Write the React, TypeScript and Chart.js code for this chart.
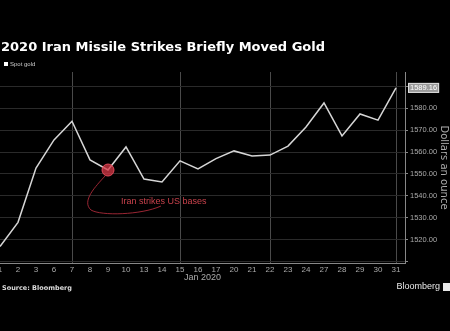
import React, { useEffect, useRef } from 'react';
import { Chart, registerables } from 'chart.js';

Chart.register(...registerables);

// ---- Data ----
const days = ['1', '2', '3', '6', '7', '8', '9', '10', '13', '14', '15', '16', '17', '20', '21', '22', '23', '24', '27', '28', '29', '30', '31'];
const spotGold = [1517, 1528, 1552.7, 1565.5, 1574, 1556.4, 1551.8, 1562.3, 1547.7, 1546.4, 1556, 1552.3, 1557, 1560.5, 1558.2, 1558.6, 1562.7, 1571.4, 1582.3, 1567.3, 1577.3, 1574.5, 1589.16];
const gridDays = ['7', '15', '22', '31'];
const yMin = 1509.5;
const yMax = 1596.4;
const yLabelMin = 1520;
const yLabelMax = 1580;
const yStep = 10;

const titleText = '2020 Iran Missile Strikes Briefly Moved Gold';
const seriesName = 'Spot gold';
const xAxisTitle = 'Jan 2020';
const yAxisTitle = 'Dollars an ounce';
const sourceText = 'Source: Bloomberg';
const brandText = 'Bloomberg';
const eventDay = '9';
const eventText = 'Iran strikes US bases';

const decor = {
  id: 'decor',
  beforeDraw(chart: any) {
    const ctx = chart.ctx;
    ctx.save();
    ctx.fillStyle = '#000';
    ctx.fillRect(0, 0, chart.width, chart.height);
    ctx.restore();
  },
  afterDraw(chart: any) {
    const ctx = chart.ctx;
    const xs = chart.scales.x;
    const ys = chart.scales.y;
    ctx.save();
    // Title
    ctx.textBaseline = 'middle';
    ctx.textAlign = 'left';
    ctx.fillStyle = '#ffffff';
    ctx.font = 'bold 13px "DejaVu Sans"';
    ctx.fillText(titleText, 1, 48);
    // Legend
    ctx.fillStyle = '#ffffff';
    ctx.fillRect(4, 62, 4, 4);
    ctx.fillStyle = '#cccccc';
    ctx.font = '6px "Liberation Sans"';
    ctx.fillText(seriesName, 10, 64.5);
    // Source
    ctx.fillStyle = '#dddddd';
    ctx.font = 'bold 6.5px "DejaVu Sans"';
    ctx.fillText(sourceText, 2, 288);
    // Brand
    ctx.fillStyle = '#e8e8e8';
    ctx.font = '9px "Liberation Sans"';
    ctx.textAlign = 'right';
    ctx.fillText(brandText, 440, 287);
    ctx.fillRect(443, 283, 7, 8);

    // Annotation
    const i = days.indexOf(eventDay);
    const px = xs.getPixelForValue(i);
    const py = ys.getPixelForValue(spotGold[i]);
    ctx.strokeStyle = 'rgba(180,45,60,0.85)';
    ctx.lineWidth = 1;
    ctx.beginPath();
    ctx.moveTo(px - 3, py + 6);
    ctx.bezierCurveTo(px - 12, py + 16, px - 27, py + 31, px - 17, py + 40);
    ctx.bezierCurveTo(px - 7, py + 46, px + 33, py + 45, px + 53, py + 36);
    ctx.stroke();
    ctx.beginPath();
    ctx.arc(px, py, 6, 0, Math.PI * 2);
    ctx.fillStyle = 'rgba(215,55,70,0.75)';
    ctx.fill();
    ctx.strokeStyle = 'rgba(235,80,95,0.9)';
    ctx.stroke();
    ctx.fillStyle = '#c8424c';
    ctx.font = '9px "Liberation Sans"';
    ctx.textAlign = 'left';
    ctx.fillText(eventText, px + 13, py + 31);

    // Last value box
    const last = spotGold[spotGold.length - 1];
    const ly = ys.getPixelForValue(last);
    const label = last.toFixed(2);
    ctx.font = '7.5px "Liberation Sans"';
    const w = ctx.measureText(label).width + 4;
    const bx = ys.left + 3;
    ctx.fillStyle = '#9a9a9a';
    ctx.fillRect(bx, ly - 5, w, 10);
    ctx.strokeStyle = '#dddddd';
    ctx.strokeRect(bx + 0.5, ly - 4.5, w - 1, 9);
    ctx.fillStyle = '#ffffff';
    ctx.fillText(label, bx + 2, ly + 0.5);
    ctx.restore();
  },
};

export default function App() {
  const ref = useRef<HTMLCanvasElement | null>(null);
  useEffect(() => {
    document.body.style.background = '#000';
    const canvas = ref.current!;
    const chart = new Chart(canvas, {
      type: 'line',
      data: {
        datasets: [
          {
            label: seriesName,
            data: spotGold.map((v, i) => ({ x: i, y: v })),
            borderColor: '#d6d6d6',
            borderWidth: 1.5,
            pointRadius: 0,
            tension: 0,
          },
        ],
      },
      options: {
        responsive: false,
        animation: false,
        layout: { padding: { top: 72, bottom: 44, left: 0, right: 0 } },
        plugins: {
          legend: { display: false },
          tooltip: { enabled: false },
          title: { display: false },
        },
        scales: {
          x: {
            type: 'linear',
            min: 0,
            max: days.length - 0.5,
            afterFit(s: any) {
              s.height = 24;
              s.paddingLeft = 0;
              s.paddingRight = 0;
            },
            ticks: {
              stepSize: 1,
              autoSkip: false,
              maxRotation: 0,
              includeBounds: false,
              color: '#aaaaaa',
              font: { size: 8, family: 'Liberation Sans' },
              padding: 2,
              callback: (v: any) => days[v] ?? '',
            },
            grid: {
              drawTicks: false,
              color: (c: any) => (c.tick && gridDays.includes(days[c.tick.value]) ? '#4a4a4a' : 'rgba(0,0,0,0)'),
              lineWidth: 1,
            },
            border: { color: '#888888' },
            title: {
              display: true,
              text: xAxisTitle,
              color: '#aaaaaa',
              font: { size: 9, family: 'Liberation Sans' },
              padding: { top: 0, bottom: 4 },
            },
          },
          y: {
            type: 'linear',
            position: 'right',
            min: yMin,
            max: yMax,
            afterFit(s: any) {
              s.width = 45;
            },
            ticks: {
              stepSize: yStep,
              includeBounds: false,
              color: '#aaaaaa',
              font: { size: 7.5, family: 'Liberation Sans' },
              padding: 2,
              callback: (v: any) => (v >= yLabelMin && v <= yLabelMax ? Number(v).toFixed(2) : ''),
            },
            grid: { color: '#2a2a2a', tickColor: '#888888', tickLength: 3 },
            border: { color: '#888888' },
            title: {
              display: true,
              text: yAxisTitle,
              color: '#aaaaaa',
              font: { size: 10, family: 'DejaVu Sans' },
              padding: 0,
            },
          },
        },
      },
      plugins: [decor],
    });
    return () => chart.destroy();
  }, []);
  return (
    <div style={{ position: 'absolute', left: 0, top: 0, width: 450, height: 331, background: '#000' }}>
      <canvas ref={ref} width={450} height={331} style={{ display: 'block' }} />
    </div>
  );
}
